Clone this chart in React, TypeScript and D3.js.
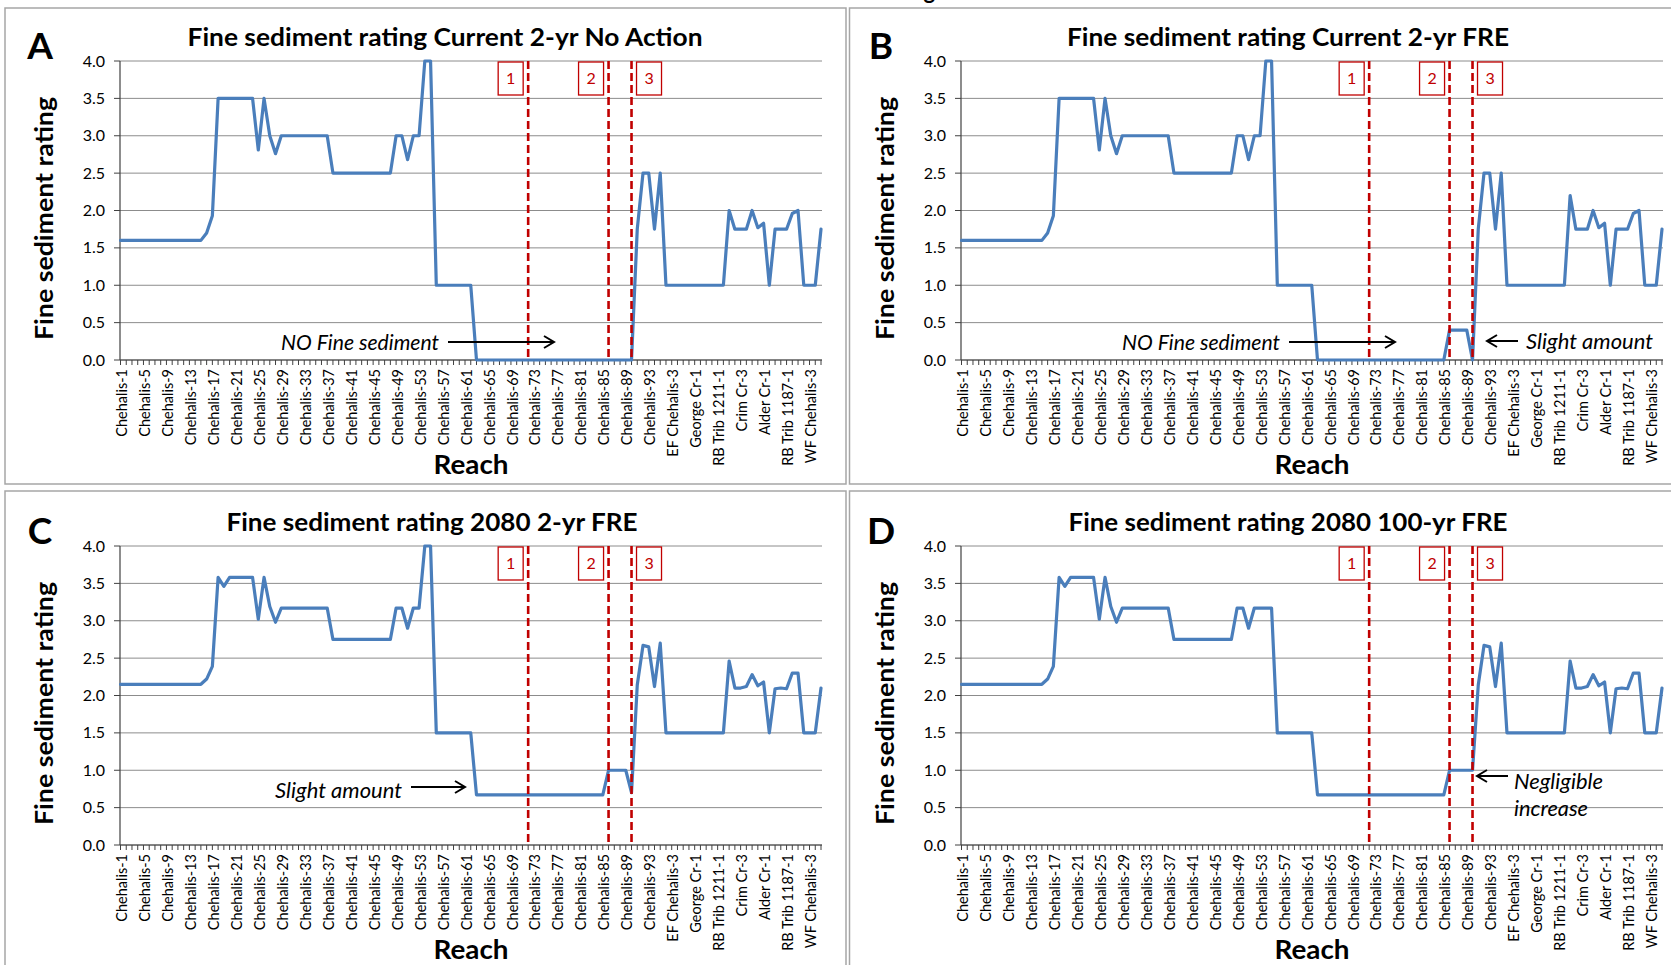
import React from 'react';
import * as d3 from 'd3';

const categories: string[] = [
  'Chehalis-1','Chehalis-2','Chehalis-3','Chehalis-4','Chehalis-5','Chehalis-6','Chehalis-7','Chehalis-8','Chehalis-9','Chehalis-10',
  'Chehalis-11','Chehalis-12','Chehalis-13','Chehalis-14','Chehalis-15','Chehalis-16','Chehalis-17','Chehalis-18','Chehalis-19','Chehalis-20',
  'Chehalis-21','Chehalis-22','Chehalis-23','Chehalis-24','Chehalis-25','Chehalis-26','Chehalis-27','Chehalis-28','Chehalis-29','Chehalis-30',
  'Chehalis-31','Chehalis-32','Chehalis-33','Chehalis-34','Chehalis-35','Chehalis-36','Chehalis-37','Chehalis-38','Chehalis-39','Chehalis-40',
  'Chehalis-41','Chehalis-42','Chehalis-43','Chehalis-44','Chehalis-45','Chehalis-46','Chehalis-47','Chehalis-48','Chehalis-49','Chehalis-50',
  'Chehalis-51','Chehalis-52','Chehalis-53','Chehalis-54','Chehalis-55','Chehalis-56','Chehalis-57','Chehalis-58','Chehalis-59','Chehalis-60',
  'Chehalis-61','Chehalis-62','Chehalis-63','Chehalis-64','Chehalis-65','Chehalis-66','Chehalis-67','Chehalis-68','Chehalis-69','Chehalis-70',
  'Chehalis-71','Chehalis-72','Chehalis-73','Chehalis-74','Chehalis-75','Chehalis-76','Chehalis-77','Chehalis-78','Chehalis-79','Chehalis-80',
  'Chehalis-81','Chehalis-82','Chehalis-83','Chehalis-84','Chehalis-85','Chehalis-86','Chehalis-87','Chehalis-88','Chehalis-89','Chehalis-90',
  'Chehalis-91','Chehalis-92','Chehalis-93','Chehalis-94',
  'EF Chehalis-1','EF Chehalis-2','EF Chehalis-3','EF Chehalis-4','EF Chehalis-5','EF Chehalis-6',
  'George Cr-1','George Cr-2','George Cr-3','George Cr-4',
  'RB Trib 1211-1','RB Trib 1211-2',
  'Crim Cr-1','Crim Cr-2','Crim Cr-3','Crim Cr-4','Crim Cr-5','Crim Cr-6',
  'Alder Cr-1','Alder Cr-2','Alder Cr-3','Alder Cr-4',
  'RB Trib 1187-1','RB Trib 1187-2',
  'WF Chehalis-1','WF Chehalis-2','WF Chehalis-3','WF Chehalis-4','WF Chehalis-5',
];

// Current 2-yr No Action
const ratingCurrentNoAction: number[] = [
  1.6,1.6,1.6,1.6,1.6,1.6,1.6,1.6,1.6,1.6,1.6,1.6,1.6,1.6,1.6,
  1.7,1.93,
  3.5,3.5,3.5,3.5,3.5,3.5,3.5,
  2.81,3.5,3.0,2.76,
  3.0,3.0,3.0,3.0,3.0,3.0,3.0,3.0,3.0,
  2.5,2.5,2.5,2.5,2.5,2.5,2.5,2.5,2.5,2.5,2.5,
  3.0,3.0,2.68,3.0,3.0,4.0,4.0,
  1.0,1.0,1.0,1.0,1.0,1.0,1.0,
  0,0,0,0,0,0,0,0,0,0,0,0,0,0,0,0,0,0,0,0,0,0,0,0,0,0,0,0,
  1.75,2.5,2.5,1.75,2.5,
  1.0,1.0,1.0,1.0,1.0,1.0,1.0,1.0,1.0,1.0,1.0,
  2.0,1.75,1.75,1.75,2.0,1.77,1.83,1.0,
  1.75,1.75,1.75,1.96,2.0,
  1.0,1.0,1.0,1.75,
];

// Current 2-yr FRE
const ratingCurrentFRE: number[] = [
  1.6,1.6,1.6,1.6,1.6,1.6,1.6,1.6,1.6,1.6,1.6,1.6,1.6,1.6,1.6,
  1.7,1.93,
  3.5,3.5,3.5,3.5,3.5,3.5,3.5,
  2.81,3.5,3.0,2.76,
  3.0,3.0,3.0,3.0,3.0,3.0,3.0,3.0,3.0,
  2.5,2.5,2.5,2.5,2.5,2.5,2.5,2.5,2.5,2.5,2.5,
  3.0,3.0,2.68,3.0,3.0,4.0,4.0,
  1.0,1.0,1.0,1.0,1.0,1.0,1.0,
  0,0,0,0,0,0,0,0,0,0,0,0,0,0,0,0,0,0,0,0,0,0,0,
  0.4,0.4,0.4,0.4,0,
  1.75,2.5,2.5,1.75,2.5,
  1.0,1.0,1.0,1.0,1.0,1.0,1.0,1.0,1.0,1.0,1.0,
  2.2,1.75,1.75,1.75,2.0,1.77,1.83,1.0,
  1.75,1.75,1.75,1.96,2.0,
  1.0,1.0,1.0,1.75,
];

// 2080 2-yr FRE
const rating2080TwoYr: number[] = [
  2.15,2.15,2.15,2.15,2.15,2.15,2.15,2.15,2.15,2.15,2.15,2.15,2.15,2.15,2.15,
  2.22,2.39,
  3.58,3.46,3.58,3.58,3.58,3.58,3.58,
  3.02,3.58,3.19,2.98,
  3.17,3.17,3.17,3.17,3.17,3.17,3.17,3.17,3.17,
  2.75,2.75,2.75,2.75,2.75,2.75,2.75,2.75,2.75,2.75,2.75,
  3.17,3.17,2.9,3.17,3.17,4.0,4.0,
  1.5,1.5,1.5,1.5,1.5,1.5,1.5,
  0.67,0.67,0.67,0.67,0.67,0.67,0.67,0.67,0.67,0.67,0.67,0.67,0.67,0.67,0.67,0.67,0.67,0.67,0.67,0.67,0.67,0.67,0.67,
  1.0,1.0,1.0,1.0,0.7,
  2.14,2.67,2.65,2.12,2.7,
  1.5,1.5,1.5,1.5,1.5,1.5,1.5,1.5,1.5,1.5,1.5,
  2.46,2.1,2.1,2.12,2.28,2.13,2.18,1.5,
  2.09,2.1,2.09,2.3,2.3,
  1.5,1.5,1.5,2.1,
];

// 2080 100-yr FRE
const rating2080HundredYr: number[] = [
  2.15,2.15,2.15,2.15,2.15,2.15,2.15,2.15,2.15,2.15,2.15,2.15,2.15,2.15,2.15,
  2.22,2.39,
  3.58,3.46,3.58,3.58,3.58,3.58,3.58,
  3.02,3.58,3.19,2.98,
  3.17,3.17,3.17,3.17,3.17,3.17,3.17,3.17,3.17,
  2.75,2.75,2.75,2.75,2.75,2.75,2.75,2.75,2.75,2.75,2.75,
  3.17,3.17,2.9,3.17,3.17,3.17,3.17,
  1.5,1.5,1.5,1.5,1.5,1.5,1.5,
  0.67,0.67,0.67,0.67,0.67,0.67,0.67,0.67,0.67,0.67,0.67,0.67,0.67,0.67,0.67,0.67,0.67,0.67,0.67,0.67,0.67,0.67,0.67,
  1.0,1.0,1.0,1.0,1.0,
  2.14,2.67,2.65,2.12,2.7,
  1.5,1.5,1.5,1.5,1.5,1.5,1.5,1.5,1.5,1.5,1.5,
  2.46,2.1,2.1,2.12,2.28,2.13,2.18,1.5,
  2.09,2.1,2.09,2.3,2.3,
  1.5,1.5,1.5,2.1,
];

const yTicks: number[] = [0, 0.5, 1.0, 1.5, 2.0, 2.5, 3.0, 3.5, 4.0];
const dividerReaches: string[] = ['Chehalis-72', 'Chehalis-86', 'Chehalis-90'];
const dividerLabels: string[] = ['1', '2', '3'];

const FONT = 'Lato, "Open Sans", sans-serif';
const BLUE = '#4A7EBB';
const RED = '#C00000';

type Note = { kind: 'text' | 'arrow'; x: number; y: number; x2?: number; text?: string; len?: number };

type PanelDef = {
  letter: string;
  title: string;
  titleX: number;
  titleLen: number;
  dx: number;
  dy: number;
  frameX: number;
  frameY: number;
  values: number[];
  notes: Note[];
};

const panels: PanelDef[] = [
  {
    letter: 'A', title: 'Fine sediment rating Current 2-yr No Action', titleX: 445, titleLen: 515, dx: 0, dy: 0,
    frameX: 5, frameY: 8, values: ratingCurrentNoAction,
    notes: [
      { kind: 'text', x: 281, y: 342, text: 'NO Fine sediment', len: 158 },
      { kind: 'arrow', x: 448, y: 342, x2: 554 },
    ],
  },
  {
    letter: 'B', title: 'Fine sediment rating Current 2-yr FRE', titleX: 447, titleLen: 442, dx: 841, dy: 0,
    frameX: 8.5, frameY: 8, values: ratingCurrentFRE,
    notes: [
      { kind: 'text', x: 281, y: 342, text: 'NO Fine sediment', len: 158 },
      { kind: 'arrow', x: 448, y: 342, x2: 554 },
      { kind: 'text', x: 685, y: 341, text: 'Slight amount', len: 127 },
      { kind: 'arrow', x: 677, y: 341, x2: 646 },
    ],
  },
  {
    letter: 'C', title: 'Fine sediment rating 2080 2-yr FRE', titleX: 432, titleLen: 411, dx: 0, dy: 485,
    frameX: 5, frameY: 6, values: rating2080TwoYr,
    notes: [
      { kind: 'text', x: 275, y: 305, text: 'Slight amount', len: 127 },
      { kind: 'arrow', x: 411, y: 302, x2: 465 },
    ],
  },
  {
    letter: 'D', title: 'Fine sediment rating 2080 100-yr FRE', titleX: 447, titleLen: 439, dx: 841, dy: 485,
    frameX: 8.5, frameY: 6, values: rating2080HundredYr,
    notes: [
      { kind: 'text', x: 673, y: 296, text: 'Negligible', len: 89 },
      { kind: 'text', x: 673, y: 323, text: 'increase', len: 74 },
      { kind: 'arrow', x: 667, y: 291, x2: 636 },
    ],
  },
];

const xScale = d3.scalePoint<string>().domain(categories).range([120.5, 821]);
const yScale = d3.scaleLinear().domain([0, 4]).range([360, 61]);
const PLOT_L = 120;
const PLOT_R = 822;

function Arrow({ x, y, x2 }: { x: number; y: number; x2: number }) {
  const dir = x2 > x ? 1 : -1;
  const hx = x2 - dir * 10;
  return (
    <g stroke="#000" strokeWidth={2} fill="none">
      <line x1={x} y1={y} x2={x2 - dir * 1} y2={y} />
      <path d={`M${hx},${y - 6} L${x2},${y} L${hx},${y + 6}`} strokeLinejoin="miter" />
    </g>
  );
}

function Panel({ p }: { p: PanelDef }) {
  const line = d3
    .line<number>()
    .x((_, i) => xScale(categories[i]) as number)
    .y((d) => yScale(d));
  const path = line(p.values) || '';
  return (
    <g transform={`translate(${p.dx},${p.dy})`}>
      <rect x={p.frameX} y={p.frameY} width={841} height={476} fill="#fff" stroke="#A6A6A6" strokeWidth={1.5} />
      <text x={40} y={59} textAnchor="middle" fontFamily={FONT} fontWeight={700} fontSize={37}>{p.letter}</text>
      <text
        x={p.titleX}
        y={46}
        textAnchor="middle"
        fontFamily={FONT}
        fontWeight={700}
        fontSize={25.5}
        textLength={p.titleLen}
        lengthAdjust="spacingAndGlyphs"
      >
        {p.title}
      </text>
      {/* gridlines */}
      {yTicks.map((t) => (
        <line key={'g' + t} x1={PLOT_L} x2={PLOT_R} y1={yScale(t)} y2={yScale(t)} stroke="#8C8C8C" strokeWidth={1} />
      ))}
      {/* y axis */}
      <line x1={PLOT_L} x2={PLOT_L} y1={yScale(4)} y2={yScale(0)} stroke="#404040" strokeWidth={1.2} />
      {yTicks.map((t) => (
        <g key={'y' + t}>
          <line x1={PLOT_L - 6} x2={PLOT_L} y1={yScale(t)} y2={yScale(t)} stroke="#404040" strokeWidth={1} />
          <text x={105} y={yScale(t)} dy="0.35em" textAnchor="end" fontFamily={FONT} fontSize={16} fill="#000">
            {t.toFixed(1)}
          </text>
        </g>
      ))}
      {/* x axis */}
      <line x1={PLOT_L} x2={PLOT_R} y1={yScale(0)} y2={yScale(0)} stroke="#404040" strokeWidth={1.2} />
      {categories.map((c) => (
        <line key={'t' + c} x1={xScale(c)} x2={xScale(c)} y1={yScale(0)} y2={yScale(0) + 5} stroke="#404040" strokeWidth={1} />
      ))}
      {categories.map((c, i) =>
        i % 4 === 0 ? (
          <text
            key={'l' + c}
            transform={`translate(${(xScale(c) as number) + 1.5},${yScale(0) + 9}) rotate(-90)`}
            textAnchor="end"
            dy="0.35em"
            fontFamily={FONT}
            fontSize={14.5}
            fill="#000"
          >
            {c}
          </text>
        ) : null
      )}
      {/* axis titles */}
      <text
        transform={`translate(44,${(yScale(0) + yScale(4)) / 2 + 8}) rotate(-90)`}
        textAnchor="middle"
        dy="0.35em"
        fontFamily={FONT}
        fontWeight={700}
        fontSize={25.5}
        textLength={243}
        lengthAdjust="spacingAndGlyphs"
      >
        Fine sediment rating
      </text>
      <text
        x={(PLOT_L + PLOT_R) / 2}
        y={474}
        textAnchor="middle"
        fontFamily={FONT}
        fontWeight={700}
        fontSize={27}
        textLength={75}
        lengthAdjust="spacingAndGlyphs"
      >
        Reach
      </text>
      {/* data line */}
      <path d={path} fill="none" stroke={BLUE} strokeWidth={3.2} strokeLinejoin="round" strokeLinecap="round" />
      {/* dividers */}
      {dividerReaches.map((r, k) => {
        const x = xScale(r) as number;
        const bx = k === 2 ? x + 5 : x - 30;
        return (
          <g key={'d' + r}>
            <line x1={x} x2={x} y1={yScale(4)} y2={yScale(0) - 2} stroke={RED} strokeWidth={2.6} strokeDasharray="8,4" />
            <rect x={bx} y={62} width={25} height={33} fill="#fff" stroke={RED} strokeWidth={1.3} />
            <text x={bx + 12.5} y={78.5} dy="0.35em" textAnchor="middle" fontFamily={FONT} fontSize={16} fill={RED}>
              {dividerLabels[k]}
            </text>
          </g>
        );
      })}
      {/* annotations */}
      {p.notes.map((n, i) =>
        n.kind === 'text' ? (
          <text
            key={'n' + i}
            x={n.x}
            y={n.y}
            dy="0.35em"
            fontFamily={FONT}
            fontStyle="italic"
            fontSize={21.5}
            textLength={n.len}
            lengthAdjust="spacingAndGlyphs"
          >
            {n.text}
          </text>
        ) : (
          <Arrow key={'n' + i} x={n.x} y={n.y} x2={n.x2 as number} />
        )
      )}
    </g>
  );
}

export default function App() {
  return (
    <svg
      width={1671}
      height={965}
      viewBox="0 0 1671 965"
      style={{ position: 'absolute', left: 0, top: 0, background: '#fff' }}
    >
      <rect x={0} y={0} width={1671} height={965} fill="#fff" />
      <text x={835} y={-1} textAnchor="middle" fontFamily={FONT} fontWeight={700} fontSize={22}>
        Fine sediment rating
      </text>
      {panels.map((p) => (
        <Panel key={p.letter} p={p} />
      ))}
    </svg>
  );
}
